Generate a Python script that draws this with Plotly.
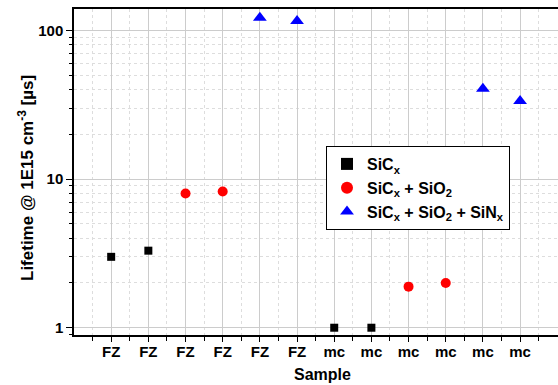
import plotly.graph_objects as go

tick_labels = ["FZ", "FZ", "FZ", "FZ", "FZ", "FZ", "mc", "mc", "mc", "mc", "mc", "mc"]
tick_pos = list(range(1, 13))

sicx_x = [1, 2, 7, 8]
sicx_y = [3.0, 3.3, 1.0, 1.0]

sio2_x = [3, 4, 9, 10]
sio2_y = [8.0, 8.25, 1.89, 2.0]

sinx_x = [5, 6, 11, 12]
sinx_y = [122, 116, 40.5, 33.5]

FONT = "Liberation Sans, Arial, sans-serif"

W, H = 558, 385
ML, MR, MT, MB = 74, 0, 9, 50
PH = H - MT - MB

fig = go.Figure()
fig.add_trace(go.Scatter(x=sicx_x, y=sicx_y, mode="markers", name="SiC<sub>x</sub>",
                         marker=dict(symbol="square", size=8, color="black")))
fig.add_trace(go.Scatter(x=sio2_x, y=sio2_y, mode="markers", name="SiC<sub>x</sub> + SiO<sub>2</sub>",
                         marker=dict(symbol="circle", size=10, color="red")))
fig.add_trace(go.Scatter(x=sinx_x, y=sinx_y, mode="markers",
                         name="SiC<sub>x</sub> + SiO<sub>2</sub> + SiN<sub>x</sub>",
                         marker=dict(symbol="triangle-up", size=12, color="blue")))

minor_x = [i + 0.5 for i in range(0, 13)]
minor_y = [m * 10 ** d for d in range(-1, 3) for m in range(2, 10)]

fig.update_layout(
    width=W, height=H,
    margin=dict(l=ML, r=MR, t=MT, b=MB),
    paper_bgcolor="white", plot_bgcolor="white",
    font=dict(family=FONT, color="black", size=14),
    showlegend=True,
    legend=dict(x=(326 - ML) / (W - ML), y=1 - (146 - MT) / PH, xanchor="left", yanchor="top",
                bgcolor="white", bordercolor="black", borderwidth=1,
                font=dict(family=FONT, size=16, weight="bold"),
                itemsizing="constant", tracegroupgap=3),
    xaxis=dict(
        range=[0, 13.02], tickmode="array", tickvals=tick_pos, ticktext=tick_labels,
        automargin=False,
        showline=True, linecolor="black", linewidth=1.5, mirror=True,
        ticks="outside", ticklen=5, tickcolor="black", tickwidth=1,
        ticklabelstandoff=-3,
        tickfont=dict(family=FONT, size=15, weight="bold"),
        showgrid=True, gridcolor="#cccccc", gridwidth=1,
        minor=dict(tickmode="array", tickvals=minor_x, ticks="outside", ticklen=4,
                   tickcolor="black", showgrid=True, gridcolor="#dddddd", griddash="dot"),
        zeroline=False,
    ),
    yaxis=dict(
        type="log", range=[-0.049, 2.145], tickmode="array", tickvals=[1, 10, 100],
        ticktext=["1", "10", "100"],
        automargin=False,
        showline=True, linecolor="black", linewidth=1.5, mirror=True,
        ticks="outside", ticklen=6, tickcolor="black", tickwidth=1,
        tickfont=dict(family=FONT, size=15, weight="bold"),
        showgrid=True, gridcolor="#cccccc", gridwidth=1,
        minor=dict(tickmode="array", tickvals=minor_y, ticks="outside", ticklen=3,
                   tickcolor="black", showgrid=True, gridcolor="#dddddd", griddash="dot"),
        zeroline=False,
    ),
    annotations=[
        dict(text="<b>Sample</b>", xref="paper", yref="paper",
             x=(322 - ML) / (W - ML), y=-(374 - (H - MB)) / PH,
             xanchor="center", yanchor="middle", showarrow=False,
             font=dict(family=FONT, size=16)),
        dict(text="<b>Lifetime @ 1E15 cm<sup>-3</sup> [µs]</b>", xref="paper", yref="paper",
             x=-(ML - 26) / (W - ML), y=1 - (178 - MT) / PH, textangle=-90,
             xanchor="center", yanchor="middle", showarrow=False,
             font=dict(family=FONT, size=17)),
    ],
)

fig.write_html("out.html", config={"displayModeBar": False},
               post_script="document.body.style.margin='0';document.body.style.overflow='hidden';")
